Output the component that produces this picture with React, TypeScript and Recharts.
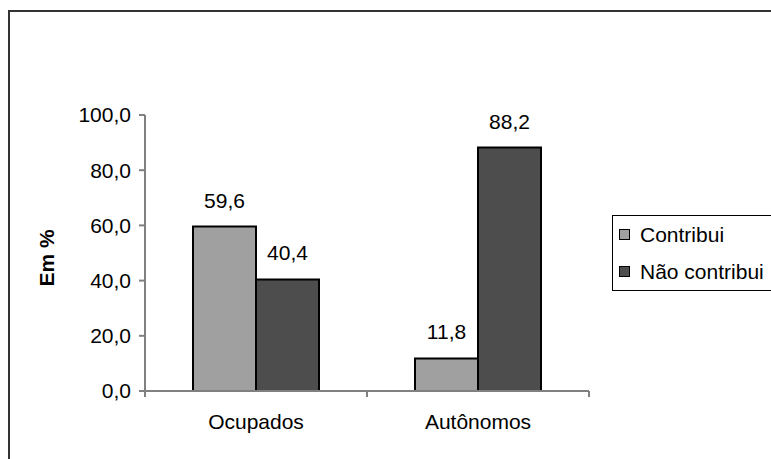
import React from 'react';
import { BarChart, Bar, XAxis, YAxis, LabelList, Legend } from 'recharts';

const categories = ['Ocupados', 'Autônomos'];
const contribui = [59.6, 11.8];
const naoContribui = [40.4, 88.2];
const yTicks = [0, 20, 40, 60, 80, 100];
const seriesNames = ['Contribui', 'Não contribui'];
const seriesColors = ['#a0a0a0', '#4d4d4d'];

const data = categories.map((c, i) => ({ name: c, contribui: contribui[i], nao: naoContribui[i] }));

const FONT = 'Arial, "Liberation Sans", Helvetica, sans-serif';
const FS = 21;
const fmt = (v: any) => Number(v).toFixed(1).replace('.', ',');

const XTick = (props: any) => {
  const { x, y, payload, width } = props;
  const band = (width || 444) / categories.length;
  const axisY = y - 24;
  return (
    <g>
      <line x1={x - band / 2} y1={axisY} x2={x - band / 2} y2={axisY + 6} stroke="#808080" strokeWidth={2} />
      <line x1={x + band / 2} y1={axisY} x2={x + band / 2} y2={axisY + 6} stroke="#808080" strokeWidth={2} />
      <text x={x} y={y} dy={14} textAnchor="middle" fontSize={FS} fill="#000" fontFamily={FONT}>
        {payload.value}
      </text>
    </g>
  );
};

const LegendBox = () => (
  <div
    style={{
      width: 200,
      height: 76,
      border: '1.5px solid #000',
      borderRight: 'none',
      background: '#fff',
      fontFamily: FONT,
      fontSize: FS,
      color: '#000',
      boxSizing: 'border-box',
      paddingTop: 0,
    }}
  >
    {seriesNames.map((n, i) => (
      <div key={n} style={{ display: 'flex', alignItems: 'center', height: 37, paddingLeft: 6 }}>
        <div style={{ width: 9, height: 9, background: seriesColors[i], border: '1px solid #000', marginRight: 10 }} />
        <span>{n}</span>
      </div>
    ))}
  </div>
);

export default function App() {
  return (
    <div style={{ position: 'absolute', left: 0, top: 0, width: 771, height: 459, background: '#fff', overflow: 'hidden' }}>
      <div
        style={{
          position: 'absolute',
          left: 8,
          top: 10,
          width: 800,
          height: 500,
          border: '2px solid #333',
          boxSizing: 'border-box',
        }}
      />
      <div style={{ position: 'absolute', left: 0, top: 0 }}>
        <BarChart
          width={771}
          height={459}
          data={data}
          margin={{ top: 115, right: 182, bottom: 38, left: 0 }}
          barCategoryGap={48}
          barGap={0}
        >
          <XAxis
            dataKey="name"
            axisLine={{ stroke: '#808080', strokeWidth: 2 }}
            tickLine={false}
            tickSize={0}
            tickMargin={24}
            height={30}
            tick={<XTick />}
            interval={0}
          />
          <YAxis
            width={145}
            domain={[0, 100]}
            ticks={yTicks}
            interval={0}
            tickFormatter={fmt}
            axisLine={{ stroke: '#808080', strokeWidth: 2 }}
            tickLine={{ stroke: '#808080', strokeWidth: 2 }}
            tickSize={6}
            tickMargin={8}
            tick={{ fill: '#000', fontSize: FS, fontFamily: FONT }}
            label={{
              content: () => (
                <text
                  x={46}
                  y={258}
                  transform="rotate(-90 46 258)"
                  textAnchor="middle"
                  dominantBaseline="central"
                  fontSize={FS}
                  fontWeight="bold"
                  fontFamily={FONT}
                  fill="#000"
                >
                  Em %
                </text>
              ),
            }}
          />
          <Legend
            layout="vertical"
            align="center"
            verticalAlign="middle"
            content={<LegendBox />}
            wrapperStyle={{ position: 'absolute', left: 612, top: 215, width: 200, height: 76 }}
          />
          <Bar dataKey="contribui" name={seriesNames[0]} fill={seriesColors[0]} stroke="#000" strokeWidth={2} isAnimationActive={false}>
            <LabelList dataKey="contribui" position="top" offset={19} formatter={fmt} fill="#000" fontSize={FS} fontFamily={FONT} />
          </Bar>
          <Bar dataKey="nao" name={seriesNames[1]} fill={seriesColors[1]} stroke="#000" strokeWidth={2} isAnimationActive={false}>
            <LabelList dataKey="nao" position="top" offset={19} formatter={fmt} fill="#000" fontSize={FS} fontFamily={FONT} />
          </Bar>
        </BarChart>
      </div>
    </div>
  );
}
